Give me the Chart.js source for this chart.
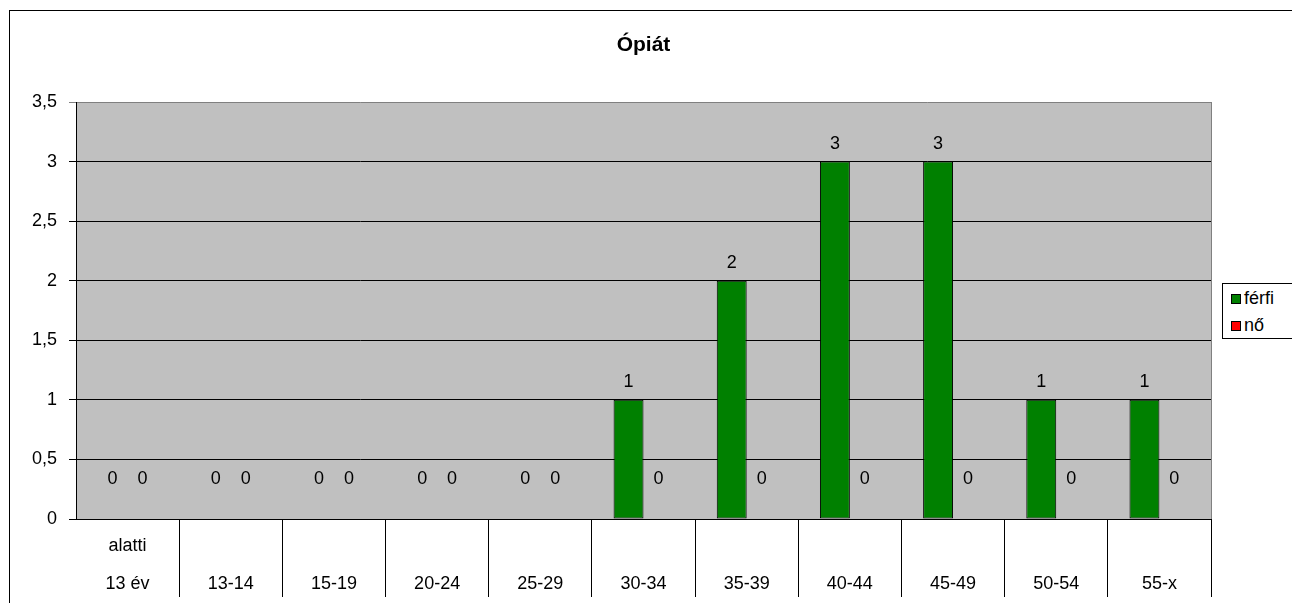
<!DOCTYPE html>
<html><head><meta charset="utf-8">
<script src="https://cdn.jsdelivr.net/npm/chart.js@4.4.1/dist/chart.umd.min.js"></script>
<style>
html,body{margin:0;padding:0;overflow:hidden;background:#fff;width:1292px;height:603px;}
#wrap{position:absolute;left:0;top:0;width:1292px;height:603px;}
#frame{position:absolute;left:9px;top:10px;width:1400px;height:700px;border:1px solid #000;pointer-events:none;}
#legend{position:absolute;left:1222px;top:283px;width:90px;height:53px;border:1px solid #000;background:#fff;
  font:18px "Liberation Sans",Arial,sans-serif;color:#000;padding-top:1px;box-sizing:content-box;}
#legend .row{height:27px;display:flex;align-items:center;}
#legend .sw{width:10px;height:10px;box-sizing:border-box;border:1px solid #000;margin-left:8px;margin-right:3px;}
</style>
</head><body>
<div id="frame"></div>
<div id="wrap"><canvas id="c" width="1292" height="603"></canvas></div>
<div id="legend"></div>
<script>
const chartTitle = "Ópiát";
const categories = [["alatti","13 év"],["","13-14"],["","15-19"],["","20-24"],["","25-29"],["","30-34"],["","35-39"],["","40-44"],["","45-49"],["","50-54"],["","55-x"]];
const seriesNames = ["férfi","nő"];
const ferfi = [0,0,0,0,0,1,2,3,3,1,1];
const no = [0,0,0,0,0,0,0,0,0,0,0];
const yMin = 0, yMax = 3.5, yStep = 0.5;
const colors = ["#008000","#FF0000"];
const FONT = '"Liberation Sans", Arial, sans-serif';

const plotBg = {
  id:'plotBg',
  beforeDraw(chart){
    const {ctx, chartArea:a} = chart;
    ctx.save();
    ctx.fillStyle = '#C0C0C0';
    ctx.fillRect(a.left, a.top, a.right-a.left, a.bottom-a.top);
    ctx.restore();
  },
  afterDraw(chart){
    const {ctx, chartArea:a} = chart;
    ctx.save();
    ctx.strokeStyle = '#808080';
    ctx.lineWidth = 1;
    ctx.beginPath();
    const x = Math.round(a.right)+0.5;
    ctx.moveTo(x, a.top); ctx.lineTo(x, a.bottom);
    ctx.stroke();
    ctx.restore();
  }
};

const valueLabels = {
  id:'valueLabels',
  afterDatasetsDraw(chart){
    const ctx = chart.ctx;
    ctx.save();
    ctx.font = '18px ' + FONT;
    ctx.fillStyle = '#000';
    ctx.textAlign = 'center';
    ctx.textBaseline = 'middle';
    chart.data.datasets.forEach((ds, di) => {
      const meta = chart.getDatasetMeta(di);
      meta.data.forEach((el, i) => {
        const v = ds.data[i];
        const y = v > 0 ? el.y - 18 : el.base - 40;
        ctx.fillText(String(v).replace('.', ','), el.x, y);
      });
    });
    ctx.restore();
  }
};

const chart = new Chart(document.getElementById('c'), {
  type:'bar',
  data:{
    labels: categories,
    datasets:[
      {label: seriesNames[0], data: ferfi, backgroundColor: colors[0], borderColor:'#000',
       borderWidth: c => (c.raw > 0 ? 1 : 0), borderSkipped:false, barPercentage:1, categoryPercentage:0.58},
      {label: seriesNames[1], data: no, backgroundColor: colors[1], borderColor:'#000',
       borderWidth: c => (c.raw > 0 ? 1 : 0), borderSkipped:false, barPercentage:1, categoryPercentage:0.58}
    ]
  },
  options:{
    responsive:false,
    animation:false,
    devicePixelRatio:1,
    layout:{padding:{top:0,left:0,right:81,bottom:0}},
    plugins:{
      legend:{display:false},
      tooltip:{enabled:false},
      title:{display:true, text:chartTitle, fullSize:false, color:'#000',
        font:{family:FONT, size:21, weight:'bold', lineHeight:1.2},
        padding:{top:32.4, bottom:44.4}}
    },
    scales:{
      x:{
        offset:true,
        grid:{offset:true, drawOnChartArea:false, drawTicks:true, tickLength:78,
          color: c => (c.index === 0 ? 'rgba(0,0,0,0)' : '#000'), lineWidth:1},
        border:{display:true, color:'#000', width:1},
        ticks:{color:'#000', padding:-70, maxRotation:0, autoSkip:false,
          font:{family:FONT, size:18, lineHeight:'38px'}},
        afterFit(s){ s.height = 84; }
      },
      y:{
        min:yMin, max:yMax,
        grid:{color: c => (c.tick && c.tick.value === yMax ? '#808080' : '#000'), tickLength:7, lineWidth:1},
        border:{display:true, color:'#000', width:1},
        ticks:{stepSize:yStep, color:'#000', padding:12,
          font:{family:FONT, size:18},
          callback: v => String(v).replace('.', ',')},
        afterFit(s){ s.width = 76; }
      }
    }
  },
  plugins:[plotBg, valueLabels]
});

const lg = document.getElementById('legend');
chart.data.datasets.forEach(ds => {
  const row = document.createElement('div'); row.className = 'row';
  const sw = document.createElement('div'); sw.className = 'sw'; sw.style.background = ds.backgroundColor;
  const t = document.createElement('span'); t.textContent = ds.label;
  row.appendChild(sw); row.appendChild(t); lg.appendChild(row);
});
</script>
</body></html>
